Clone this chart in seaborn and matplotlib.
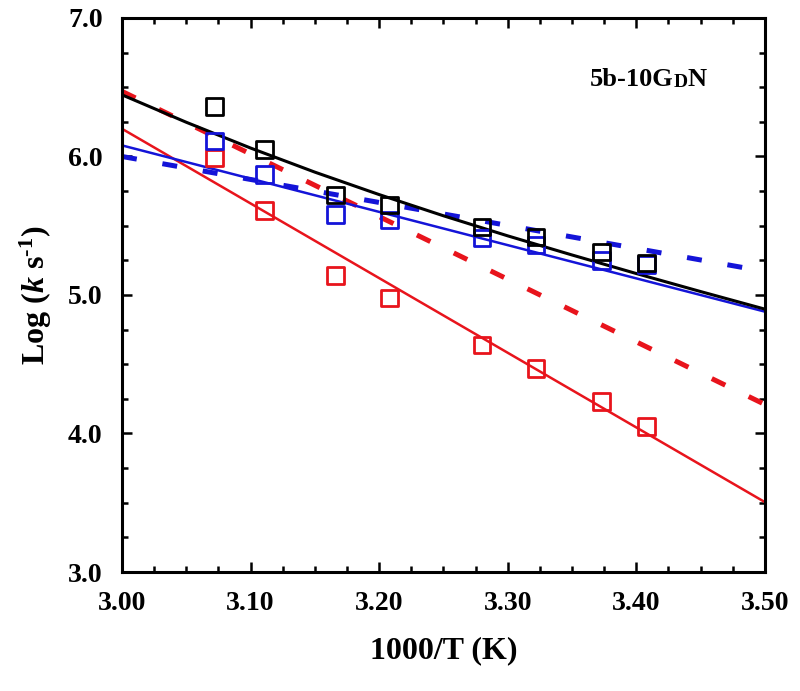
import numpy as np
import pandas as pd
import matplotlib
matplotlib.use("Agg")
import matplotlib.pyplot as plt
import seaborn as sns
from matplotlib.ticker import MultipleLocator, FormatStrFormatter

sns.set_theme(style="ticks")
plt.rcParams['font.family'] = ['Liberation Serif', 'DejaVu Serif']
plt.rcParams['font.weight'] = 'bold'
plt.rcParams['text.color'] = 'black'
plt.rcParams['axes.labelcolor'] = 'black'
plt.rcParams['mathtext.fontset'] = 'custom'
plt.rcParams['mathtext.rm'] = 'Liberation Serif:bold'
plt.rcParams['mathtext.it'] = 'Liberation Serif:italic:bold'
plt.rcParams['mathtext.bf'] = 'Liberation Serif:bold'

# measured data (1000/T vs log k)
inv_T = [3.072, 3.111, 3.166, 3.208, 3.280, 3.322, 3.373, 3.408]
logk_total = [6.36, 6.05, 5.72, 5.65, 5.49, 5.42, 5.31, 5.23]
logk_blue = [6.11, 5.87, 5.58, 5.54, 5.41, 5.36, 5.25, 5.22]
logk_red = [5.99, 5.61, 5.14, 4.98, 4.64, 4.47, 4.23, 4.05]

# fitted lines
fit_x = [3.00, 3.50]
fit_red = [6.20, 3.505]
fit_blue = [6.08, 4.88]
fit_red_dash = [6.47, 4.21]
fit_blue_dash = [6.00, 5.17]
curve_x = [3.00, 3.05, 3.10, 3.15, 3.20, 3.25, 3.30, 3.35, 3.40, 3.45, 3.50]
curve_total = [6.445, 6.247, 6.061, 5.887, 5.725, 5.572, 5.427, 5.289, 5.155, 5.025, 4.898]

RED = '#e8141c'
BLUE = '#1414d8'
BLACK = '#000000'

fig = plt.figure(figsize=(8, 6.91), dpi=100)
ax = fig.add_axes([0.1525, 0.1722, 0.8035, 0.8018])

dash = (0, (3, 5.2))
sns.lineplot(x=fit_x, y=fit_red_dash, color=RED, linewidth=3.6, linestyle=dash, ax=ax)
sns.lineplot(x=fit_x, y=fit_blue_dash, color=BLUE, linewidth=3.6, linestyle=dash, ax=ax)
sns.lineplot(x=fit_x, y=fit_red, color=RED, linewidth=1.8, ax=ax)
sns.lineplot(x=fit_x, y=fit_blue, color=BLUE, linewidth=1.8, ax=ax)
sns.lineplot(x=curve_x, y=curve_total, color=BLACK, linewidth=2.2, ax=ax)

for yy, c in [(logk_red, RED), (logk_blue, BLUE), (logk_total, BLACK)]:
    sns.scatterplot(x=inv_T, y=yy, marker='s', s=140, color=c, facecolor='none',
                    edgecolor=c, linewidth=2.0, ax=ax, zorder=3)

ax.set_xlim(3.0, 3.5)
ax.set_ylim(3.0, 7.0)
ax.xaxis.set_major_locator(MultipleLocator(0.1))
ax.xaxis.set_minor_locator(MultipleLocator(0.025))
ax.yaxis.set_major_locator(MultipleLocator(1.0))
ax.yaxis.set_minor_locator(MultipleLocator(0.25))
ax.xaxis.set_major_formatter(FormatStrFormatter('%.2f'))
ax.yaxis.set_major_formatter(FormatStrFormatter('%.1f'))
ax.tick_params(which='both', direction='in', top=True, right=True, width=1.8,
               colors='black', labelcolor='black')
ax.tick_params(which='major', length=7, labelsize=20, pad=14)
ax.tick_params(which='minor', length=4)
for lab in ax.get_xticklabels() + ax.get_yticklabels():
    lab.set_fontweight('bold')
for s in ax.spines.values():
    s.set_linewidth(2.2)
    s.set_color('black')

ax.set_xlabel('1000/T (K)', fontsize=23, fontweight='bold', labelpad=14)
ax.set_ylabel(r'Log ($k$ s$^{\text{-}1}$)', fontsize=23, fontweight='bold', labelpad=10)

t1 = ax.text(0.728, 0.878, '5b-10G', transform=ax.transAxes, fontsize=19,
             fontweight='bold', va='baseline', ha='left')
t2 = ax.annotate('D', xy=(1, 0), xycoords=t1, fontsize=14, fontweight='bold',
                 va='bottom', ha='left')
t3 = ax.annotate('N', xy=(1, 0), xycoords=t2, fontsize=19, fontweight='bold',
                 va='bottom', ha='left')

fig.savefig('out.png', dpi=100)
